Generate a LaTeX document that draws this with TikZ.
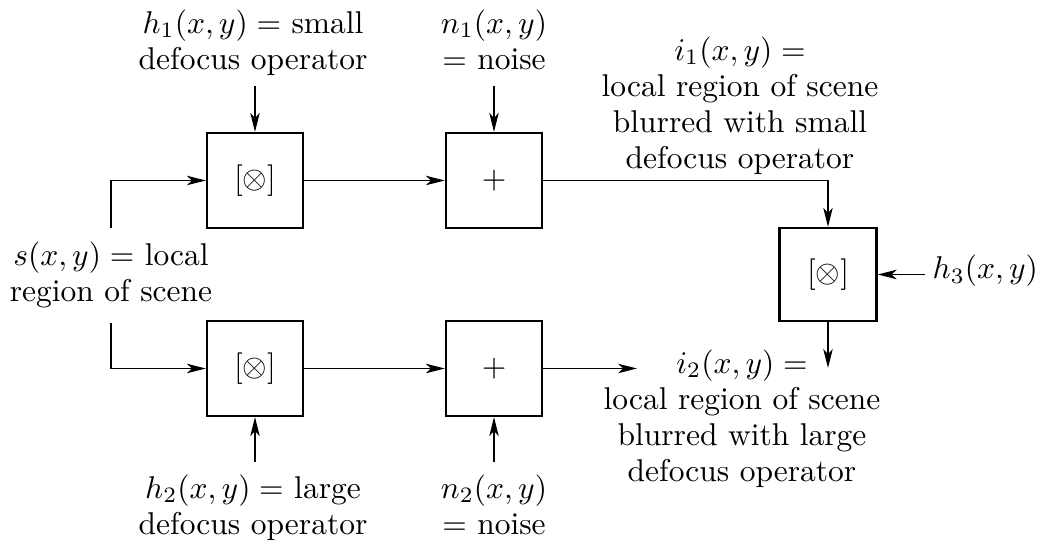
\documentclass[tikz,border=0pt]{standalone}
\usetikzlibrary{arrows.meta}
\begin{document}
\begin{tikzpicture}[x=0.3175pt,y=-0.3175pt,
  every node/.style={font=\fontsize{10}{11.43}\selectfont},
  blk/.style={draw,line width=0.75pt,minimum width=30.48pt,minimum height=30.16pt,inner sep=0pt},
  lbl/.style={align=center,inner sep=0pt},
  conn/.style={line width=0.6pt,-{Stealth[length=6pt,width=3pt,inset=1.6pt]}}]
\useasboundingbox (0,0) rectangle (1041,542);
% blocks
\node[blk] (m1) at (255,180.5) {$[\otimes]$};
\node[blk] (p1) at (494,180.5) {$+$};
\node[blk] (m2) at (255,368.5) {$[\otimes]$};
\node[blk] (p2) at (494,368.5) {$+$};
\node[blk,minimum width=30.8pt,minimum height=29.53pt] (m3) at (828,274.5) {$[\otimes]$};
% labels
\node[lbl,anchor=north] (h1l) at (253,9) {$h_1(x,y) =$ small\\defocus operator};
\node[lbl,anchor=north] (n1l) at (494,9) {$n_1(x,y)$\\$=$ noise};
\node[lbl,anchor=north] (i1l) at (740,36) {$i_1(x,y) =$\\local region of scene\\blurred with small\\defocus operator};
\node[lbl,anchor=north] (sl) at (111,241) {$s(x,y) =$ local\\region of scene};
\node[lbl,anchor=base west] (h3l) at (932,279) {$h_3(x,y)$};
\node[lbl,anchor=north] (i2l) at (742,349) {$i_2(x,y) =$\\local region of scene\\blurred with large\\defocus operator};
\node[lbl,anchor=north] (h2l) at (253,474) {$h_2(x,y) =$ large\\defocus operator};
\node[lbl,anchor=north] (n2l) at (494,474) {$n_2(x,y)$\\$=$ noise};
% connector ends
\coordinate (h1a) at (255,86);
\coordinate (n1a) at (494,86);
\coordinate (h2a) at (255,462);
\coordinate (n2a) at (494,462);
\coordinate (sin1) at (111,228);
\coordinate (sin2) at (111,323);
\coordinate (h3a) at (925,274.5);
\coordinate (o3) at (828,368);
\coordinate (o2) at (637,368.5);
% connectors
\draw[conn] (h1a) -- (m1.north);
\draw[conn] (n1a) -- (p1.north);
\draw[conn] (h2a) -- (m2.south);
\draw[conn] (n2a) -- (p2.south);
\draw[conn] (sin1) |- (m1.west);
\draw[conn] (sin2) |- (m2.west);
\draw[conn] (m1.east) -- (p1.west);
\draw[conn] (m2.east) -- (p2.west);
\draw[conn] (p1.east) -| (m3.north);
\draw[conn] (h3a) -- (m3.east);
\draw[conn] (m3.south) -- (o3);
\draw[conn] (p2.east) -- (o2);
\end{tikzpicture}
\end{document}
